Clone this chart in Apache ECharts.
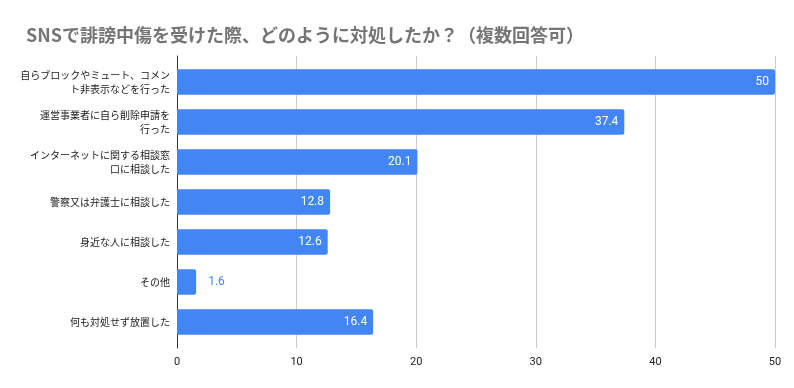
<!DOCTYPE html>
<html><head><meta charset="utf-8">
<script src="https://cdn.jsdelivr.net/npm/echarts@6/dist/echarts.min.js"></script>
<style>html,body{margin:0;padding:0;background:#fff}#c{width:794px;height:388px}</style>
</head><body><div id="c"></div>
<script>
var titleText = 'SNSで誹謗中傷を受けた際、どのように対処したか？（複数回答可）';
var categories = [
  '自らブロックやミュート、コメン\nト非表示などを行った',
  '運営事業者に自ら削除申請を\n行った',
  'インターネットに関する相談窓\n口に相談した',
  '警察又は弁護士に相談した',
  '身近な人に相談した',
  'その他',
  '何も対処せず放置した'
];
var values = [50, 37.4, 20.1, 12.8, 12.6, 1.6, 16.4];
var xTicks = [0, 10, 20, 30, 40, 50];

var chart = echarts.init(document.getElementById('c'), null, {renderer: 'canvas'});
var font = "'Noto Sans CJK JP', Roboto, sans-serif";
var xMin = xTicks[0], xMax = xTicks[xTicks.length - 1];
chart.setOption({
  animation: false,
  title: {
    text: titleText, left: 21, top: 21,
    textStyle: {fontFamily: font, fontSize: 18, fontWeight: 'bold', color: '#757575'}
  },
  grid: [
    {left: 177, right: 19, top: 62, bottom: 46, containLabel: false},
    {left: 177, right: 19, top: 56, bottom: 40, containLabel: false}
  ],
  xAxis: [{
    gridIndex: 0, type: 'value', min: xMin, max: xMax, interval: 10,
    axisLine: {show: false}, axisTick: {show: false},
    splitLine: {show: false}, axisLabel: {show: false}
  }, {
    gridIndex: 1, type: 'value', min: xMin, max: xMax, interval: 10,
    axisLine: {show: false}, axisTick: {show: false},
    splitLine: {lineStyle: {color: '#cccccc', width: 1}},
    axisLabel: {fontFamily: 'Roboto, sans-serif', fontSize: 11, color: '#222', margin: 9}
  }],
  yAxis: [{
    gridIndex: 0, type: 'category', inverse: true, data: categories,
    axisLine: {show: false},
    axisTick: {show: false},
    axisLabel: {fontFamily: font, fontSize: 10, color: '#1a1a1a', margin: 7, lineHeight: 14, align: 'right'}
  }, {
    gridIndex: 1, type: 'value', min: 0, max: 1,
    axisLine: {show: true, lineStyle: {color: '#333', width: 1}},
    axisTick: {show: false}, axisLabel: {show: false}, splitLine: {show: false}
  }],
  series: [{
    type: 'bar', xAxisIndex: 0, yAxisIndex: 0, barWidth: 25.5,
    data: values.map(function (v) {
      var small = v < 5;
      return {
        value: v,
        label: small ? {position: 'right', distance: 12, color: '#4285F4'} : {position: 'insideRight', distance: 6, color: '#ffffff'}
      };
    }),
    itemStyle: {color: '#4285F4', borderRadius: [0, 2, 2, 0]},
    label: {show: true, fontFamily: 'Roboto, sans-serif', fontSize: 12}
  }]
});
</script></body></html>
